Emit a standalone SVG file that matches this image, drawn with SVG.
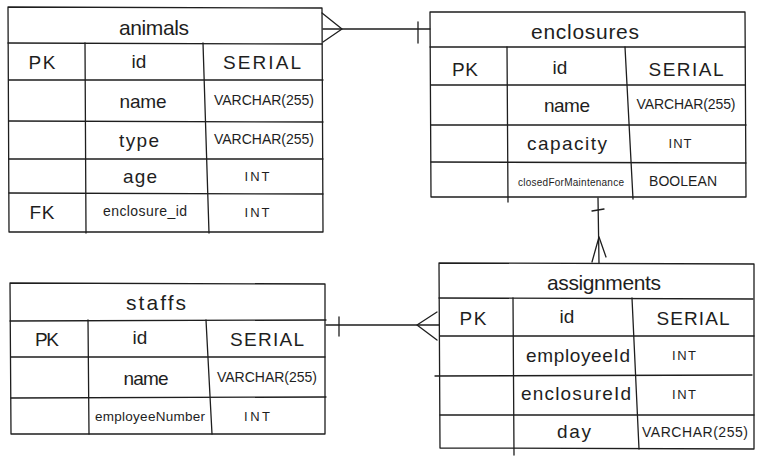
<svg xmlns="http://www.w3.org/2000/svg" width="763" height="457" viewBox="0 0 763 457">
<style>
.l{stroke:#1e1e1e;stroke-width:1.3;fill:none;stroke-linecap:round;stroke-linejoin:round}
.t{font-family:"Liberation Sans","DejaVu Sans",sans-serif;fill:#1e1e1e;text-anchor:middle;dominant-baseline:central}
.h{font-size:21px}
.m{font-size:19px}
.k{font-size:19px}
.v{font-size:14px}
.i{font-size:13px}
.s{font-size:14px}
</style>
<rect width="763" height="457" fill="#ffffff"/>

<g id="animals">
<path class="l" d="M8 7 L322 8 L323 232 L9 232 Z"/>
<path class="l" d="M8 43 L322 44 M9 80 L323 80 M9 121 L323 122 M9 159 L323 159 M9 193 L323 194"/>
<path class="l" d="M85 43 L86 233 M203 43 L209 233"/>
<text class="t h" x="154" y="27" textLength="70" lengthAdjust="spacing">animals</text>
<text class="t k" x="42" y="62" textLength="27" lengthAdjust="spacing">PK</text>
<text class="t m" x="139" y="61">id</text>
<text class="t k" x="262" y="62" textLength="78" lengthAdjust="spacing">SERIAL</text>
<text class="t m" x="143" y="101" textLength="47" lengthAdjust="spacing">name</text>
<text class="t v" x="264" y="100" textLength="100" lengthAdjust="spacing">VARCHAR(255)</text>
<text class="t m" x="139" y="140" textLength="40" lengthAdjust="spacing">type</text>
<text class="t v" x="264" y="139" textLength="100" lengthAdjust="spacing">VARCHAR(255)</text>
<text class="t m" x="140" y="176" textLength="34" lengthAdjust="spacing">age</text>
<text class="t i" x="257" y="176" textLength="25" lengthAdjust="spacing">INT</text>
<text class="t k" x="42" y="212" textLength="25" lengthAdjust="spacing">FK</text>
<text class="t s" x="145" y="211" textLength="84" lengthAdjust="spacing">enclosure_id</text>
<text class="t i" x="257" y="212" textLength="25" lengthAdjust="spacing">INT</text>
</g>

<g id="enclosures">
<path class="l" d="M430 12 L745 12 L746 197 L431 197 Z"/>
<path class="l" d="M430 47 L745 47 M431 85 L745 85 M431 125 L746 125 M431 162 L746 163"/>
<path class="l" d="M507 47 L508 202 M625 47 L633 199"/>
<text class="t h" x="585" y="31" textLength="108" lengthAdjust="spacing">enclosures</text>
<text class="t k" x="465" y="69" textLength="26" lengthAdjust="spacing">PK</text>
<text class="t m" x="560" y="67">id</text>
<text class="t k" x="686" y="69" textLength="75" lengthAdjust="spacing">SERIAL</text>
<text class="t m" x="567" y="105" textLength="46" lengthAdjust="spacing">name</text>
<text class="t v" x="686" y="104" textLength="99" lengthAdjust="spacing">VARCHAR(255)</text>
<text class="t m" x="567" y="143" textLength="80" lengthAdjust="spacing">capacity</text>
<text class="t i" x="680" y="143" textLength="23" lengthAdjust="spacing">INT</text>
<text class="t" style="font-size:10px" x="571" y="182" textLength="106" lengthAdjust="spacing">closedForMaintenance</text>
<text class="t v" x="683" y="181" textLength="68" lengthAdjust="spacing">BOOLEAN</text>
</g>

<g id="staffs">
<path class="l" d="M10 283 L325 284 L325 434 L11 434 Z"/>
<path class="l" d="M10 321 L326 320 M11 357 L325 357 M11 398 L326 397"/>
<path class="l" d="M88 320 L89 434 M206 320 L212 434"/>
<text class="t h" x="156" y="302" textLength="60" lengthAdjust="spacing">staffs</text>
<text class="t k" x="47" y="339" textLength="24" lengthAdjust="spacing">PK</text>
<text class="t m" x="140" y="337">id</text>
<text class="t k" x="267" y="339" textLength="74" lengthAdjust="spacing">SERIAL</text>
<text class="t m" x="146" y="378" textLength="45" lengthAdjust="spacing">name</text>
<text class="t v" x="267" y="377" textLength="100" lengthAdjust="spacing">VARCHAR(255)</text>
<text class="t" style="font-size:13.5px" x="150" y="416" textLength="110" lengthAdjust="spacing">employeeNumber</text>
<text class="t i" x="257" y="416" textLength="26" lengthAdjust="spacing">INT</text>
</g>

<g id="assignments">
<path class="l" d="M439 263 L754 264 L754 449 L440 448 Z"/>
<path class="l" d="M439 298 L753 299 M440 336 L754 336 M435 376 L752 375 M440 415 L754 415"/>
<path class="l" d="M513 298 L514 455 M632 298 L639 449"/>
<text class="t h" x="604" y="282" textLength="114" lengthAdjust="spacing">assignments</text>
<text class="t k" x="473" y="318" textLength="27" lengthAdjust="spacing">PK</text>
<text class="t m" x="567" y="316">id</text>
<text class="t k" x="693" y="318" textLength="73" lengthAdjust="spacing">SERIAL</text>
<text class="t m" x="578" y="355" textLength="104" lengthAdjust="spacing">employeeId</text>
<text class="t i" x="684" y="355" textLength="24" lengthAdjust="spacing">INT</text>
<text class="t m" x="576" y="393" textLength="110" lengthAdjust="spacing">enclosureId</text>
<text class="t i" x="684" y="394" textLength="24" lengthAdjust="spacing">INT</text>
<text class="t m" x="574" y="431" textLength="34" lengthAdjust="spacing">day</text>
<text class="t v" x="695" y="432" textLength="106" lengthAdjust="spacing">VARCHAR(255)</text>
</g>

<g id="connectors">
<path class="l" d="M323 29 L430 29"/>
<path class="l" d="M322 13 L342 29 L323 42"/>
<path class="l" d="M418 22 L418 43"/>
<path class="l" d="M598 198 L599 263"/>
<path class="l" d="M592 211 L604 209"/>
<path class="l" d="M599 237 L592 262 M599 237 L606 257"/>
<path class="l" d="M326 325 L439 325"/>
<path class="l" d="M339 317 L339 336"/>
<path class="l" d="M437 312 L417 325 L437 340"/>
</g>
</svg>
